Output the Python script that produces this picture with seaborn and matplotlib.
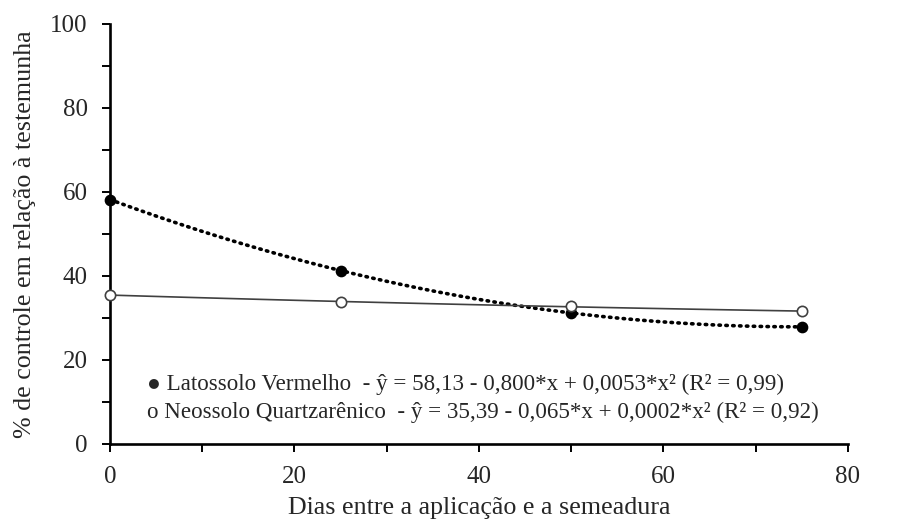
import matplotlib
matplotlib.use("Agg")
import matplotlib.pyplot as plt
import seaborn as sns
import numpy as np
import pandas as pd
from matplotlib.ticker import MultipleLocator

dias = [0, 25, 50, 75]
latossolo = [58.2, 41.3, 31.2, 27.9]
neossolo = [35.5, 33.8, 32.8, 31.6]

leg_lat = "Latossolo Vermelho  - ŷ = 58,13 - 0,800*x + 0,0053*x² (R² = 0,99)"
leg_neo = "Neossolo Quartzarênico  - ŷ = 35,39 - 0,065*x + 0,0002*x² (R² = 0,92)"

sns.set_style("ticks")
plt.rcParams['font.family'] = ['Liberation Serif', 'DejaVu Serif']

fig = plt.figure(figsize=(8.97, 5.26), dpi=100)
ax = fig.add_axes([0.1226, 0.1559, 0.8227, 0.7985])

df = pd.DataFrame({"x": dias, "lat": latossolo, "neo": neossolo})

sns.regplot(data=df, x="x", y="lat", order=2, ci=None, ax=ax,
            scatter_kws=dict(s=55, color="black", alpha=1, zorder=3, clip_on=False),
            line_kws=dict(color="black", lw=2.6, ls=(0, (0.4, 1.5)), dash_capstyle="round"))
sns.regplot(data=df, x="x", y="neo", order=2, ci=None, ax=ax,
            scatter_kws=dict(s=55, facecolor="white", edgecolor="#404040", linewidths=1.2,
                             alpha=1, zorder=4, clip_on=False),
            line_kws=dict(color="#404040", lw=1.2))

ax.set_xlim(0, 80)
ax.set_ylim(0, 100)
ax.xaxis.set_major_locator(MultipleLocator(20))
ax.xaxis.set_minor_locator(MultipleLocator(10))
ax.yaxis.set_major_locator(MultipleLocator(20))
ax.yaxis.set_minor_locator(MultipleLocator(10))
ax.tick_params(which="both", direction="out", color="black", width=1.4)
ax.tick_params(which="major", length=6, labelsize=18)
ax.tick_params(axis="y", which="major", pad=10)
ax.tick_params(axis="x", which="major", pad=10)
ax.tick_params(which="minor", length=6)
for s in ["left", "bottom"]:
    ax.spines[s].set_linewidth(1.9)
    ax.spines[s].set_color("black")
sns.despine(ax=ax)

ax.set_xlabel("Dias entre a aplicação e a semeadura", fontsize=18.7, labelpad=6)
ax.set_ylabel("% de controle em relação à testemunha", fontsize=18.7, labelpad=10)

ax.text(0.05, 0.129, "● " + leg_lat, transform=ax.transAxes, fontsize=16.6, va="baseline")
ax.text(0.05, 0.062, "o " + leg_neo, transform=ax.transAxes, fontsize=16.6, va="baseline")

fig.savefig("out.png", dpi=100)
